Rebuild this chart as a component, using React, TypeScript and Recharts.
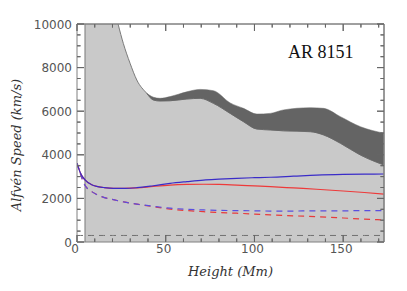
import React from 'react';
import {
  ComposedChart,
  Area,
  Line,
  XAxis,
  YAxis,
  ReferenceLine,
  Label,
  Customized,
} from 'recharts';

// envelope of the grey region (km/s), sampled in height (Mm)
const envHeight = [4.5, 10, 15, 20, 23.3, 26.1, 29.9, 33.7, 39.3, 43.1, 46.8, 52.5, 61.9, 69.4, 76.9, 86.3, 93.8, 101.4, 108.9, 116.4, 131.5, 139, 148.4, 159.7, 173];
const envUpper = [20000, 16000, 13200, 11100, 9950, 9110, 8200, 7430, 6820, 6640, 6590, 6670, 6890, 7000, 6940, 6380, 6130, 5870, 5900, 6060, 6160, 6130, 5750, 5290, 4990];
const envLower = [20000, 16000, 13200, 11100, 9950, 9110, 8200, 7430, 6820, 6510, 6470, 6480, 6560, 6590, 6360, 5900, 5520, 5180, 5140, 5100, 5060, 4910, 4530, 3990, 3530];
const bandFrom = 39.3;

// model curves
const lineHeight = [0, 2, 4.5, 8, 11.1, 15, 20.5, 27, 33.7, 43, 52.5, 62, 71.3, 80, 90, 100, 109, 122, 135, 150, 162, 173];
const blueSolid = [3620, 3150, 2850, 2640, 2550, 2500, 2460, 2460, 2490, 2580, 2690, 2770, 2840, 2880, 2920, 2950, 2970, 3020, 3070, 3100, 3110, 3120];
const redSolid = [3620, 3150, 2850, 2640, 2550, 2500, 2460, 2460, 2480, 2550, 2610, 2640, 2650, 2640, 2610, 2570, 2540, 2480, 2420, 2340, 2270, 2200];
const blueDashed = [3620, 3100, 2600, 2330, 2180, 2050, 1940, 1830, 1740, 1640, 1550, 1500, 1470, 1450, 1440, 1430, 1420, 1420, 1430, 1430, 1440, 1440];
const redDashed = [3620, 3100, 2600, 2330, 2180, 2050, 1940, 1830, 1740, 1620, 1510, 1440, 1390, 1350, 1320, 1280, 1240, 1200, 1160, 1100, 1050, 1010];
const floorSpeed = 300;

const xDomain = [0, 173];
const yDomain = [0, 10000];
const xTicks = [0, 10, 20, 30, 40, 50, 60, 70, 80, 90, 100, 110, 120, 130, 140, 150, 160, 170];
const xMajor = [0, 50, 100, 150];
const yTicks = [0, 500, 1000, 1500, 2000, 2500, 3000, 3500, 4000, 4500, 5000, 5500, 6000, 6500, 7000, 7500, 8000, 8500, 9000, 9500, 10000];
const yMajor = [0, 2000, 4000, 6000, 8000, 10000];

type Row = { h: number; [k: string]: any };

const buildData = (): Row[] => {
  const rows = new Map<number, Row>();
  const get = (h: number) => {
    if (!rows.has(h)) rows.set(h, { h });
    return rows.get(h)!;
  };
  envHeight.forEach((h, i) => {
    const r = get(h);
    r.lower = envLower[i];
    if (h >= bandFrom) r.band = [envLower[i], envUpper[i]];
  });
  lineHeight.forEach((h, i) => {
    const r = get(h);
    r.blue = blueSolid[i];
    r.red = redSolid[i];
    r.blueD = blueDashed[i];
    r.redD = redDashed[i];
  });
  const out = Array.from(rows.values()).sort((a, b) => a.h - b.h);
  out.forEach((r) => (r.floor = floorSpeed));
  return out;
};

const data = buildData();

const FRAME = '#808080';
const TICK = '#666';
const tickFont = { fontFamily: 'DejaVu Sans', fontSize: 12, fill: '#555' };
const titleFont = { fontFamily: 'DejaVu Serif', fontStyle: 'italic', fontSize: 13, fill: '#333' };

const tickLen = (v: number, majors: number[]) => (majors.includes(v) ? 7 : 3.5);

// axis tick renderer: inward tick mark, label outside for bottom/left
const makeTick = (side: 'bottom' | 'left' | 'top' | 'right', majors: number[]) => (props: any) => {
  const { x, y, payload } = props;
  const v = payload.value;
  const len = tickLen(v, majors);
  const show = majors.includes(v);
  if (side === 'bottom')
    return (
      <g>
        <line x1={x} y1={y} x2={x} y2={y - len} stroke={TICK} />
        {show && <text x={x - 2} y={y + 11} textAnchor="middle" {...tickFont}>{v}</text>}
      </g>
    );
  if (side === 'left')
    return (
      <g>
        <line x1={x} y1={y} x2={x + len} y2={y} stroke={TICK} />
        {show && <text x={x - 5} y={y + 4.5} textAnchor="end" {...tickFont}>{v}</text>}
      </g>
    );
  if (side === 'top') return <line x1={x} y1={y} x2={x} y2={y + len} stroke={TICK} />;
  return <line x1={x} y1={y} x2={x - len} y2={y} stroke={TICK} />;
};

// the same inward ticks again on top of the filled areas
const tickShape = (len: number, vertical: boolean) => (p: any) => {
  const { x1, y1, x2, y2 } = p;
  if (vertical) {
    const top = Math.min(y1, y2);
    const bot = Math.max(y1, y2);
    return (
      <g>
        <line x1={x1} y1={bot} x2={x1} y2={bot - len} stroke={TICK} />
        <line x1={x1} y1={top} x2={x1} y2={top + len} stroke={TICK} />
      </g>
    );
  }
  const l = Math.min(x1, x2);
  const r = Math.max(x1, x2);
  return (
    <g>
      <line x1={l} y1={y1} x2={l + len} y2={y1} stroke={TICK} />
      <line x1={r} y1={y1} x2={r - len} y2={y1} stroke={TICK} />
    </g>
  );
};

const axisCommon = {
  type: 'number' as const,
  allowDataOverflow: true,
  interval: 0 as const,
  tickLine: false,
  tickSize: 0,
  tickMargin: 0,
  axisLine: { stroke: FRAME },
};

const App: React.FC = () => {
  return (
    <div style={{ position: 'absolute', left: 0, top: 0, width: 407, height: 291, background: '#fff' }}>
      <ComposedChart width={407} height={291} data={data} margin={{ top: 23, right: 22, left: 0, bottom: 0 }}>
        <XAxis {...axisCommon} dataKey="h" domain={xDomain} ticks={xTicks} tick={makeTick('bottom', xMajor)} height={49}>
          <Label
            content={(p: any) => {
              const vb = p.viewBox;
              return (
                <text x={vb.x + vb.width / 2} y={vb.y + 34} textAnchor="middle" {...titleFont}>
                  Height (Mm)
                </text>
              );
            }}
          />
        </XAxis>
        <XAxis {...axisCommon} xAxisId="top" orientation="top" dataKey="h" domain={xDomain} ticks={xTicks} tick={makeTick('top', xMajor)} height={1} />
        <YAxis {...axisCommon} domain={yDomain} ticks={yTicks} tick={makeTick('left', yMajor)} width={77}>
          <Label
            content={(p: any) => {
              const vb = p.viewBox;
              const cx = 17;
              const cy = vb.y + vb.height / 2 + 12;
              return (
                <text x={cx} y={cy} transform={`rotate(-90 ${cx} ${cy})`} textAnchor="middle" dominantBaseline="middle" {...titleFont}>
                  Alfvén Speed (km/s)
                </text>
              );
            }}
          />
        </YAxis>
        <YAxis {...axisCommon} yAxisId="right" orientation="right" domain={yDomain} ticks={yTicks} tick={makeTick('right', yMajor)} width={1} />

        <Area
          dataKey="lower"
          type="monotone"
          connectNulls
          fill="#c9c9c9"
          fillOpacity={1}
          stroke="#7a7a7a"
          strokeWidth={1}
          isAnimationActive={false}
          dot={false}
          activeDot={false}
        />
        <Area
          dataKey="band"
          type="monotone"
          connectNulls
          fill="#646464"
          fillOpacity={1}
          stroke="#646464"
          strokeWidth={0.5}
          isAnimationActive={false}
          dot={false}
          activeDot={false}
        />
        <ReferenceLine x={envHeight[0]} stroke="#7a7a7a" strokeWidth={1} />
        <Line
          dataKey="floor"
          xAxisId="top"
          yAxisId="right"
          stroke="#707070"
          strokeDasharray="6 5"
          strokeWidth={1}
          dot={false}
          activeDot={false}
          isAnimationActive={false}
        />

        <Line dataKey="redD" type="monotone" connectNulls stroke="#e83a3a" strokeWidth={1.2} strokeDasharray="6 5" dot={false} activeDot={false} isAnimationActive={false} />
        <Line dataKey="blueD" type="monotone" connectNulls stroke="#5a4ee0" strokeWidth={1.2} strokeDasharray="6 5" dot={false} activeDot={false} isAnimationActive={false} />
        <Line dataKey="red" type="monotone" connectNulls stroke="#ee3a3a" strokeWidth={1.2} dot={false} activeDot={false} isAnimationActive={false} />
        <Line dataKey="blue" type="monotone" connectNulls stroke="#3a2cc8" strokeWidth={1.2} dot={false} activeDot={false} isAnimationActive={false} />

        {/* frame: top and right edges */}
        <ReferenceLine y={yDomain[1]} stroke={FRAME} strokeWidth={1.2} ifOverflow="visible" />
        <ReferenceLine x={xDomain[1]} stroke={FRAME} strokeWidth={1.2} ifOverflow="visible" />

        {xTicks.map((v) => (
          <ReferenceLine key={`xt${v}`} x={v} stroke="none" ifOverflow="visible" shape={tickShape(tickLen(v, xMajor), true)} />
        ))}
        {yTicks.map((v) => (
          <ReferenceLine key={`yt${v}`} y={v} stroke="none" ifOverflow="visible" shape={tickShape(tickLen(v, yMajor), false)} />
        ))}

        <Customized
          component={() => (
            <text x={288} y={57.5} fontFamily="Liberation Serif" fontSize={18} fill="#111">
              AR 8151
            </text>
          )}
        />
      </ComposedChart>
    </div>
  );
};

export default App;
